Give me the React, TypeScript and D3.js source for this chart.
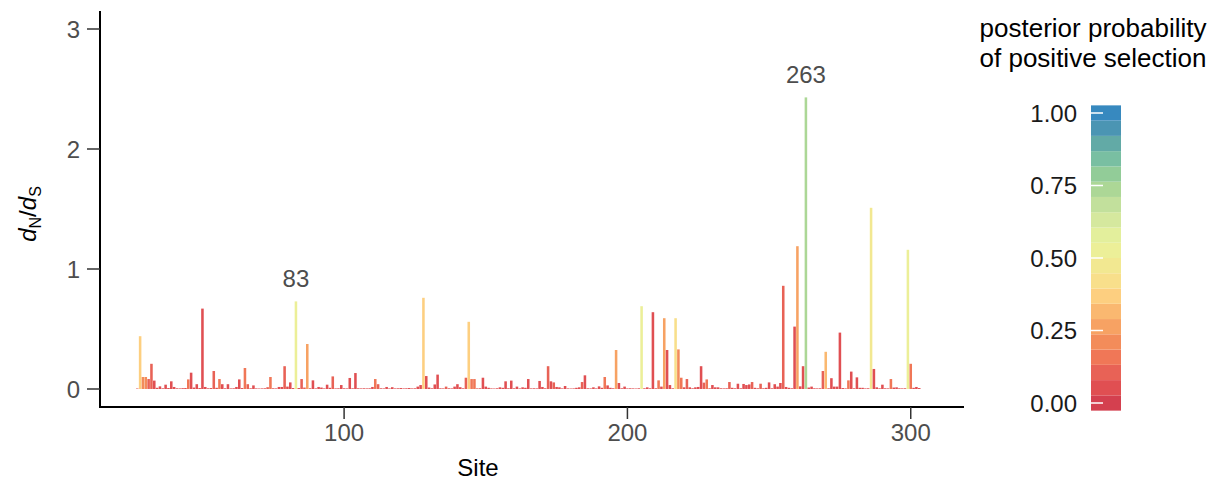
import React from 'react';
import * as d3 from 'd3';

// sites 27..303, one value per site
const firstSite = 27;

const dnds = [
  0.004, 0.44, 0.10, 0.10, 0.083, 0.21, 0.07, 0.01, 0.022, 0.006,
  0.036, 0.008, 0.064, 0.017, 0.006, 0.005, 0.007, 0.008, 0.08, 0.136,
  0.012, 0.04, 0.008, 0.67, 0.017, 0.006, 0.008, 0.15, 0.01, 0.083,
  0.04, 0.006, 0.04, 0.005, 0.006, 0.017, 0.08, 0.008, 0.175, 0.04,
  0.006, 0.03, 0.005, 0.004, 0.005, 0.006, 0.015, 0.10, 0.006, 0.005,
  0.017, 0.017, 0.19, 0.02, 0.055, 0.008, 0.73, 0.008, 0.083, 0.012,
  0.375, 0.006, 0.072, 0.005, 0.017, 0.012, 0.005, 0.036, 0.01, 0.105,
  0.005, 0.006, 0.033, 0.006, 0.005, 0.092, 0.006, 0.133, 0.006, 0.005,
  0.006, 0.005, 0.006, 0.017, 0.083, 0.04, 0.006, 0.005, 0.017, 0.005,
  0.015, 0.005, 0.006, 0.008, 0.005, 0.006, 0.008, 0.005, 0.006, 0.02,
  0.033, 0.76, 0.108, 0.012, 0.006, 0.038, 0.12, 0.006, 0.005, 0.02,
  0.006, 0.005, 0.02, 0.04, 0.015, 0.006, 0.094, 0.56, 0.083, 0.083,
  0.005, 0.006, 0.094, 0.02, 0.01, 0.005, 0.004, 0.006, 0.014, 0.01,
  0.064, 0.006, 0.07, 0.006, 0.02, 0.005, 0.014, 0.01, 0.083, 0.005,
  0.006, 0.005, 0.067, 0.017, 0.006, 0.19, 0.064, 0.055, 0.017, 0.014,
  0.005, 0.025, 0.005, 0.004, 0.005, 0.01, 0.014, 0.058, 0.114, 0.006,
  0.005, 0.014, 0.005, 0.022, 0.01, 0.10, 0.03, 0.01, 0.006, 0.325,
  0.05, 0.006, 0.02, 0.005, 0.006, 0.005, 0.004, 0.006, 0.69, 0.006,
  0.014, 0.006, 0.64, 0.006, 0.072, 0.02, 0.59, 0.325, 0.033, 0.006,
  0.59, 0.33, 0.094, 0.014, 0.083, 0.014, 0.006, 0.014, 0.017, 0.19,
  0.053, 0.08, 0.006, 0.033, 0.014, 0.014, 0.006, 0.005, 0.006, 0.058,
  0.01, 0.006, 0.044, 0.006, 0.042, 0.033, 0.038, 0.058, 0.01, 0.006,
  0.044, 0.006, 0.01, 0.055, 0.006, 0.04, 0.02, 0.05, 0.86, 0.017,
  0.01, 0.006, 0.52, 1.19, 0.022, 0.19, 2.43, 0.012, 0.02, 0.006,
  0.005, 0.006, 0.15, 0.31, 0.006, 0.09, 0.02, 0.02, 0.47, 0.008,
  0.005, 0.072, 0.145, 0.006, 0.097, 0.01, 0.01, 0.005, 0.006, 1.51,
  0.167, 0.014, 0.006, 0.036, 0.006, 0.005, 0.083, 0.012, 0.014, 0.006,
  0.005, 0.006, 1.16, 0.21, 0.01, 0.017, 0.008,
];

const posterior = [
  0.03, 0.37, 0.22, 0.22, 0.12, 0.12, 0.05, 0.04, 0.04, 0.03,
  0.03, 0.04, 0.04, 0.03, 0.05, 0.04, 0.06, 0.05, 0.17, 0.04,
  0.05, 0.05, 0.04, 0.05, 0.04, 0.05, 0.04, 0.08, 0.05, 0.16,
  0.07, 0.04, 0.04, 0.05, 0.04, 0.04, 0.05, 0.05, 0.14, 0.10,
  0.05, 0.05, 0.04, 0.05, 0.04, 0.05, 0.08, 0.18, 0.05, 0.04,
  0.05, 0.04, 0.10, 0.04, 0.03, 0.05, 0.52, 0.05, 0.08, 0.10,
  0.26, 0.05, 0.06, 0.04, 0.04, 0.05, 0.04, 0.05, 0.05, 0.13,
  0.04, 0.05, 0.04, 0.05, 0.04, 0.05, 0.04, 0.04, 0.05, 0.04,
  0.05, 0.04, 0.05, 0.04, 0.15, 0.08, 0.05, 0.04, 0.05, 0.04,
  0.05, 0.04, 0.05, 0.04, 0.05, 0.04, 0.05, 0.04, 0.05, 0.05,
  0.04, 0.37, 0.04, 0.05, 0.04, 0.06, 0.04, 0.05, 0.04, 0.08,
  0.05, 0.04, 0.04, 0.05, 0.04, 0.05, 0.13, 0.37, 0.17, 0.17,
  0.05, 0.04, 0.04, 0.05, 0.04, 0.05, 0.04, 0.05, 0.05, 0.04,
  0.05, 0.04, 0.04, 0.05, 0.05, 0.04, 0.05, 0.04, 0.05, 0.04,
  0.05, 0.04, 0.04, 0.05, 0.04, 0.12, 0.06, 0.08, 0.05, 0.04,
  0.05, 0.04, 0.05, 0.04, 0.05, 0.04, 0.05, 0.12, 0.04, 0.05,
  0.04, 0.05, 0.04, 0.05, 0.04, 0.16, 0.05, 0.05, 0.04, 0.26,
  0.05, 0.04, 0.05, 0.04, 0.05, 0.04, 0.05, 0.04, 0.50, 0.05,
  0.04, 0.05, 0.03, 0.04, 0.16, 0.05, 0.28, 0.05, 0.05, 0.04,
  0.40, 0.22, 0.16, 0.05, 0.12, 0.05, 0.04, 0.05, 0.04, 0.07,
  0.10, 0.16, 0.05, 0.04, 0.05, 0.04, 0.05, 0.04, 0.05, 0.12,
  0.05, 0.04, 0.05, 0.04, 0.06, 0.04, 0.05, 0.12, 0.05, 0.04,
  0.10, 0.05, 0.04, 0.05, 0.04, 0.05, 0.04, 0.05, 0.08, 0.05,
  0.04, 0.05, 0.05, 0.27, 0.04, 0.06, 0.75, 0.05, 0.04, 0.05,
  0.04, 0.05, 0.10, 0.30, 0.05, 0.05, 0.05, 0.04, 0.03, 0.05,
  0.04, 0.16, 0.06, 0.05, 0.05, 0.04, 0.05, 0.04, 0.05, 0.47,
  0.07, 0.05, 0.04, 0.05, 0.04, 0.05, 0.14, 0.05, 0.04, 0.05,
  0.04, 0.05, 0.50, 0.18, 0.05, 0.04, 0.05,
];

const highlightSites = [83, 263];
const xTicks = [100, 200, 300];
const yTicks = [0, 1, 2, 3];
const legendTicks = [0, 0.25, 0.5, 0.75, 1];

// 20 colour steps of the legend, low -> high
const paletteColors = [
  '#d4404f', '#e04f52', '#e86256', '#f07757', '#f38c5a',
  '#f7a263', '#fab870', '#fdcf80', '#f8df8b', '#f2e891',
  '#ecef98', '#e3ef9c', '#d5e89e', '#c2e09c', '#acd796',
  '#92cc98', '#79bfa2', '#62aaa6', '#4b95b3', '#3789bf',
];

const W = 1221;
const H = 487;
const font = '"Liberation Sans", Arial, Helvetica, sans-serif';

const App = () => {
  const data = dnds.map((v, i) => ({ site: firstSite + i, value: v, pp: posterior[i] }));

  const x = d3.scaleLinear().domain([13.84, 318.8]).range([100, 964]);
  const y = d3.scaleLinear().domain([-0.15, 3.15]).range([407, 11]);
  const step = 1 / (paletteColors.length - 1);
  const color = d3.scaleQuantize<string>()
    .domain([-step / 2, 1 + step / 2])
    .range(paletteColors);
  const barW = (x(1) - x(0)) * 0.9;

  const yLeg = d3.scaleLinear().domain([0, 1]).range([403, 113]);
  const legX = 1091;
  const legW = 30;

  return (
    <svg width={W} height={H} style={{ display: 'block', position: 'absolute', left: 0, top: 0 }} fontFamily={font}>
      {/* bars */}
      <g>
        {data.map(d => (
          <rect
            key={d.site}
            x={x(d.site) - barW / 2}
            y={y(d.value)}
            width={barW}
            height={y(0) - y(d.value)}
            fill={color(d.pp)}
          />
        ))}
      </g>

      {/* labels for highlighted sites */}
      {highlightSites.map(s => {
        const d = data.find(e => e.site === s)!;
        return (
          <text key={s} x={x(s)} y={y(d.value) - 14} textAnchor="middle" fontSize={24} fill="#4d4d4d">
            {s}
          </text>
        );
      })}

      {/* y axis */}
      <line x1={100} x2={100} y1={11} y2={407} stroke="#000" strokeWidth={2} />
      {yTicks.map(t => (
        <g key={t}>
          <line x1={87} x2={100} y1={y(t)} y2={y(t)} stroke="#333" strokeWidth={1.5} />
          <text x={80} y={y(t) + 8.5} textAnchor="end" fontSize={24} fill="#4d4d4d">{t}</text>
        </g>
      ))}

      {/* x axis */}
      <line x1={99} x2={964} y1={407} y2={407} stroke="#000" strokeWidth={2} />
      {xTicks.map(t => (
        <g key={t}>
          <line x1={x(t)} x2={x(t)} y1={407} y2={419} stroke="#333" strokeWidth={1.5} />
          <text x={x(t)} y={441} textAnchor="middle" fontSize={24} fill="#4d4d4d">{t}</text>
        </g>
      ))}

      {/* axis titles */}
      <text x={478} y={476} textAnchor="middle" fontSize={24} fill="#000">Site</text>
      <text transform="translate(36,214) rotate(-90)" textAnchor="middle" fontSize={24} fill="#000">
        <tspan fontStyle="italic">d</tspan>
        <tspan fontSize={16} dy={5}>N</tspan>
        <tspan dy={-5}>/</tspan>
        <tspan fontStyle="italic">d</tspan>
        <tspan fontSize={16} dy={5}>S</tspan>
      </text>

      {/* legend */}
      <text x={1093} y={37} textAnchor="middle" fontSize={26} fill="#000">posterior probability</text>
      <text x={1093} y={67} textAnchor="middle" fontSize={26} fill="#000">of positive selection</text>
      {paletteColors.map((c, i) => {
        const v = i * step;
        return (
          <rect
            key={c}
            x={legX}
            y={yLeg(v + step / 2)}
            width={legW}
            height={yLeg(v - step / 2) - yLeg(v + step / 2)}
            fill={c}
          />
        );
      })}
      {legendTicks.map(t => (
        <g key={t}>
          <line x1={legX} x2={legX + 12} y1={yLeg(t)} y2={yLeg(t)} stroke="#fff" strokeWidth={1.5} />
          <text x={1077} y={yLeg(t) + 8.5} textAnchor="end" fontSize={24} fill="#1a1a1a">
            {d3.format('.2f')(t)}
          </text>
        </g>
      ))}
    </svg>
  );
};

export default App;
